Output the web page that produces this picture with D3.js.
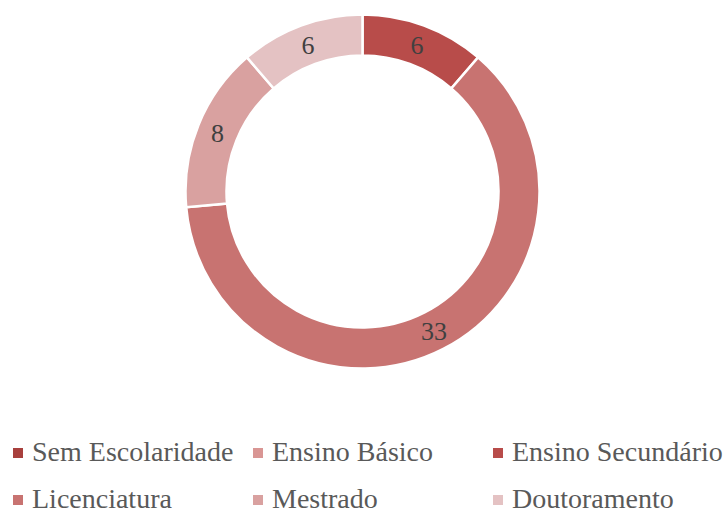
<!DOCTYPE html>
<html>
<head>
<meta charset="utf-8">
<script src="https://cdn.jsdelivr.net/npm/d3@7/dist/d3.min.js"></script>
<style>
  html, body { margin: 0; padding: 0; background: #ffffff; }
  svg { display: block; }
</style>
</head>
<body>
<svg id="chart" width="725" height="509"></svg>
<script>
// Education level categories and counts
const categories = ["Sem Escolaridade", "Ensino Básico", "Ensino Secundário", "Licenciatura", "Mestrado", "Doutoramento"];
const values = [0, 0, 6, 33, 8, 6];
const colors = ["#a8403d", "#d99694", "#b84c4a", "#c87371", "#d9a1a0", "#e4c2c3"];

const width = 725, height = 509;
const cx = 362.5, cy = 191.5;
const outerR = 177, innerR = 136;
const fontFamily = "'Liberation Serif', 'Times New Roman', serif";

const svg = d3.select("#chart");

const data = categories.map((c, i) => ({ name: c, value: values[i], color: colors[i] }));

const pie = d3.pie().value(d => d.value).sort(null);
const arcs = pie(data);
const arc = d3.arc().innerRadius(innerR).outerRadius(outerR);
const labelArc = d3.arc().innerRadius((innerR + outerR) / 2).outerRadius((innerR + outerR) / 2);

const g = svg.append("g").attr("transform", `translate(${cx},${cy})`);

g.selectAll("path.slice")
  .data(arcs.filter(a => a.data.value > 0))
  .join("path")
  .attr("class", "slice")
  .attr("d", arc)
  .attr("fill", d => d.data.color)
  .attr("stroke", "#ffffff")
  .attr("stroke-width", 2.5);

g.selectAll("text.val")
  .data(arcs.filter(a => a.data.value > 0))
  .join("text")
  .attr("class", "val")
  .attr("transform", d => `translate(${labelArc.centroid(d)})`)
  .attr("text-anchor", "middle")
  .attr("dy", "0.35em")
  .attr("font-family", fontFamily)
  .attr("font-size", 26)
  .attr("fill", "#404040")
  .text(d => d.data.value);

// Legend: three columns, two rows
const colX = [13, 253, 493];
const rowY = [453, 500];
const legend = svg.append("g");
data.forEach((d, i) => {
  const col = i % 3, row = Math.floor(i / 3);
  const item = legend.append("g").attr("transform", `translate(${colX[col]},${rowY[row]})`);
  item.append("rect")
    .attr("x", 0).attr("y", -5)
    .attr("width", 10).attr("height", 10)
    .attr("fill", d.color);
  item.append("text")
    .attr("x", 19)
    .attr("y", 8)
    .attr("font-family", fontFamily)
    .attr("font-size", 28)
    .attr("fill", "#595959")
    .text(d.name);
});
</script>
</body>
</html>
